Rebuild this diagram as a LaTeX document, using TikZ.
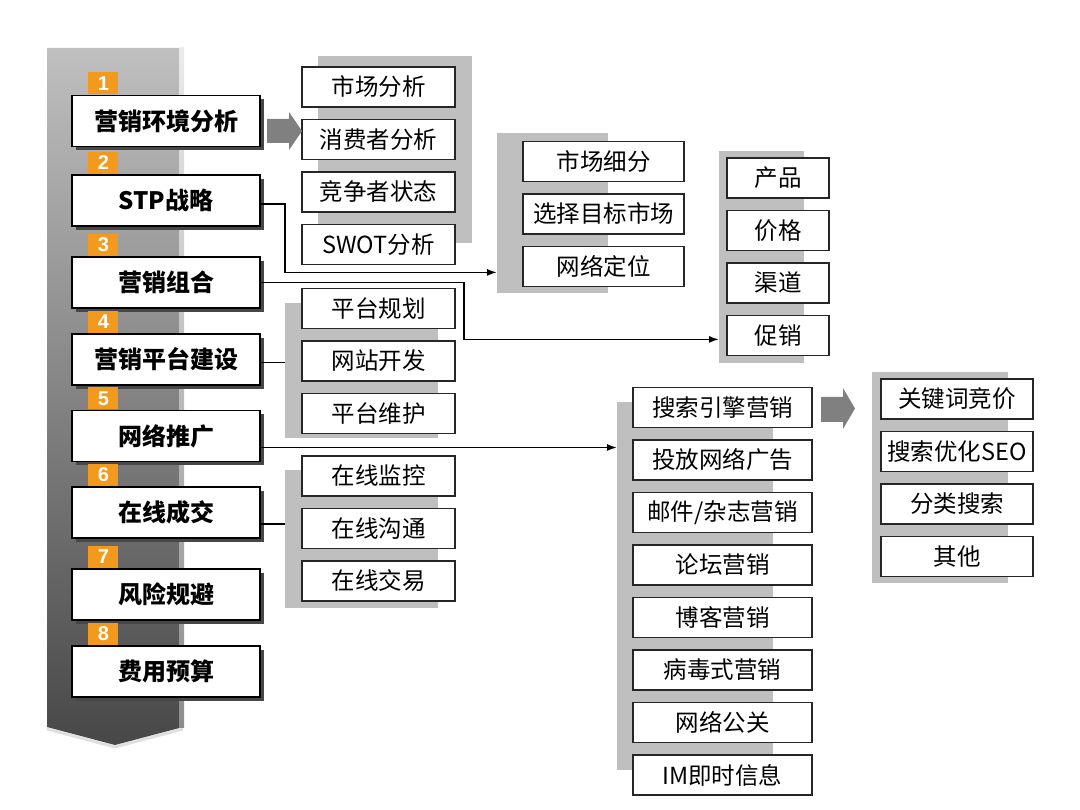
\documentclass[tikz,border=0pt]{standalone}
\usepackage{fontspec}
\setsansfont{Liberation Sans}
\newfontfamily\cjk{Noto Sans CJK SC}
\usetikzlibrary{positioning,shadows,arrows.meta}
\definecolor{badgeorange}{HTML}{F39A1E}

\begin{document}
\begin{tikzpicture}[
   x = 1pt, y = -1pt,
   stage/.style = {draw, line width=1.6pt, fill=white, inner sep=0pt,
      minimum width=188pt, minimum height=51pt,
      font=\cjk\bfseries\fontsize{24}{26}\selectfont,
      drop shadow={shadow xshift=4pt, shadow yshift=-4pt,
         fill=black!72, opacity=1}},
   badge/.style = {fill=badgeorange, text=white, inner sep=0pt,
      minimum width=30pt, minimum height=22pt,
      font=\sffamily\bfseries\fontsize{20}{20}\selectfont},
   item/.style = {draw=black!85, line width=1.5pt, fill=white,
      inner sep=0pt, minimum height=40pt,
      font=\cjk\fontsize{23.5}{25}\selectfont},
   panel/.style = {fill=black!25, inner sep=0pt, anchor=north west},
   link/.style = {line width=1.5pt},
   tip/.style = {-{Latex[length=10pt, width=7pt]}},
   bigarrow/.style = {fill=black!50},
]
   \useasboundingbox (0,0) rectangle (1080,810);
   % column
   \draw [black!12, line width=3pt] (47,729) -- (115,747) -- (183,729);
   \shade [top color=black!25, bottom color=black!72]
      (47,48) -- (183,48) -- (183,727) -- (115,745) -- (47,727) -- cycle;
   \shade [top color=black!8, bottom color=black!45]
      (179,48) rectangle (184,727);
   % panels
   \node [panel, minimum width=154pt, minimum height=187pt] (p1) at (318,56) {};
   \node [panel, minimum width=111pt, minimum height=160pt] (p2) at (497,133) {};
   \node [panel, minimum width=85pt, minimum height=212pt] (p3) at (719,151) {};
   \node [panel, minimum width=153pt, minimum height=135pt] (p4) at (285,303) {};
   \node [panel, minimum width=156pt, minimum height=368pt] (p5) at (617,402) {};
   \node [panel, minimum width=153pt, minimum height=138pt] (p6) at (285,470) {};
   \node [panel, minimum width=136pt, minimum height=211pt] (p7) at (872,372) {};
   % stages
   \node [stage] (m1) at (166,121) {营销环境分析};
   \node [stage] (m2) at (166,200.5) {STP战略};
   \node [stage] (m3) at (166,282.5) {营销组合};
   \node [stage] (m4) at (166,359.5) {营销平台建设};
   \node [stage] (m5) at (166,436) {网络推广};
   \node [stage] (m6) at (166,512.5) {在线成交};
   \node [stage] (m7) at (166,594.5) {风险规避};
   \node [stage] (m8) at (166,671.5) {费用预算};
   % numbers
   \node [badge, above right=0pt and 17pt of m1.north west] (n1) {1};
   \node [badge, above right=0pt and 17pt of m2.north west] (n2) {2};
   \node [badge, above right=0pt and 17pt of m3.north west] (n3) {3};
   \node [badge, above right=0pt and 17pt of m4.north west] (n4) {4};
   \node [badge, above right=0pt and 17pt of m5.north west] (n5) {5};
   \node [badge, above right=0pt and 17pt of m6.north west] (n6) {6};
   \node [badge, above right=0pt and 17pt of m7.north west] (n7) {7};
   \node [badge, above right=0pt and 17pt of m8.north west] (n8) {8};
   % analysis
   \begin{scope}[item/.append style={minimum width=153pt}]
      \node [item] (a1) at (378.5,87) {市场分析};
      \node [item, below=11pt of a1] (a2) {消费者分析};
      \node [item, below=11pt of a2] (a3) {竞争者状态};
      \node [item, below=11pt of a3] (a4) {SWOT分析};
   \end{scope}
   % stp
   \begin{scope}[item/.append style={minimum width=161pt}]
      \node [item] (b1) at (603.5,161.5) {市场细分};
      \node [item, below=11pt of b1] (b2) {选择目标市场};
      \node [item, below=11pt of b2] (b3) {网络定位};
   \end{scope}
   % mix
   \begin{scope}[item/.append style={minimum width=102pt}]
      \node [item] (c1) at (778,178) {产品};
      \node [item, below=11pt of c1] (c2) {价格};
      \node [item, below=11pt of c2] (c3) {渠道};
      \node [item, below=11pt of c3] (c4) {促销};
   \end{scope}
   % platform
   \begin{scope}[item/.append style={minimum width=153pt}]
      \node [item] (d1) at (378.5,308.5) {平台规划};
      \node [item, below=11pt of d1] (d2) {网站开发};
      \node [item, below=11pt of d2] (d3) {平台维护};
   \end{scope}
   % promotion
   \begin{scope}[item/.append style={minimum width=179pt}]
      \node [item] (e1) at (722.5,407.5) {搜索引擎营销};
      \node [item, below=11pt of e1] (e2) {投放网络广告};
      \node [item, below=11pt of e2] (e3) {邮件/杂志营销};
      \node [item, below=11pt of e3] (e4) {论坛营销};
      \node [item, below=11pt of e4] (e5) {博客营销};
      \node [item, below=11pt of e5] (e6) {病毒式营销};
      \node [item, below=11pt of e6] (e7) {网络公关};
      \node [item, below=11pt of e7] (e8) {IM即时信息};
   \end{scope}
   % deal
   \begin{scope}[item/.append style={minimum width=153pt}]
      \node [item] (f1) at (378.5,476) {在线监控};
      \node [item, below=11pt of f1] (f2) {在线沟通};
      \node [item, below=11pt of f2] (f3) {在线交易};
   \end{scope}
   % search
   \begin{scope}[item/.append style={minimum width=152pt}]
      \node [item] (g1) at (957,399) {关键词竞价};
      \node [item, below=11pt of g1] (g2) {搜索优化SEO};
      \node [item, below=11pt of g2] (g3) {分类搜索};
      \node [item, below=11pt of g3] (g4) {其他};
   \end{scope}
   % big arrows
   \fill [bigarrow] (267,119) -- (289,119) -- (289,112) -- (302,131)
      -- (289,150) -- (289,143) -- (267,143) -- cycle;
   \fill [bigarrow] (821,397) -- (843,397) -- (843,388) -- (855,408.5)
      -- (843,429) -- (843,422) -- (821,422) -- cycle;
   % links
   \coordinate (k2) at ([yshift=-3.5pt]m2.east);
   \coordinate (k4) at ([yshift=-3pt]m4.east);
   \coordinate (k5) at ([yshift=-11.5pt]m5.east);
   \coordinate (k6) at ([yshift=-11.5pt]m6.east);
   \draw [link, tip] (k2) -- ++(24,0) |- ([yshift=21pt]p2.south west);
   \draw [link, tip] (m3.east) -- ++(203,0) |- ([yshift=24pt]p3.south west);
   \draw [link] (k4) -- (k4 -| p4.west);
   \draw [link, tip] (k5) -- (k5 -| p5.west);
   \draw [link] (k6) -- (k6 -| p6.west);
\end{tikzpicture}
\end{document}
